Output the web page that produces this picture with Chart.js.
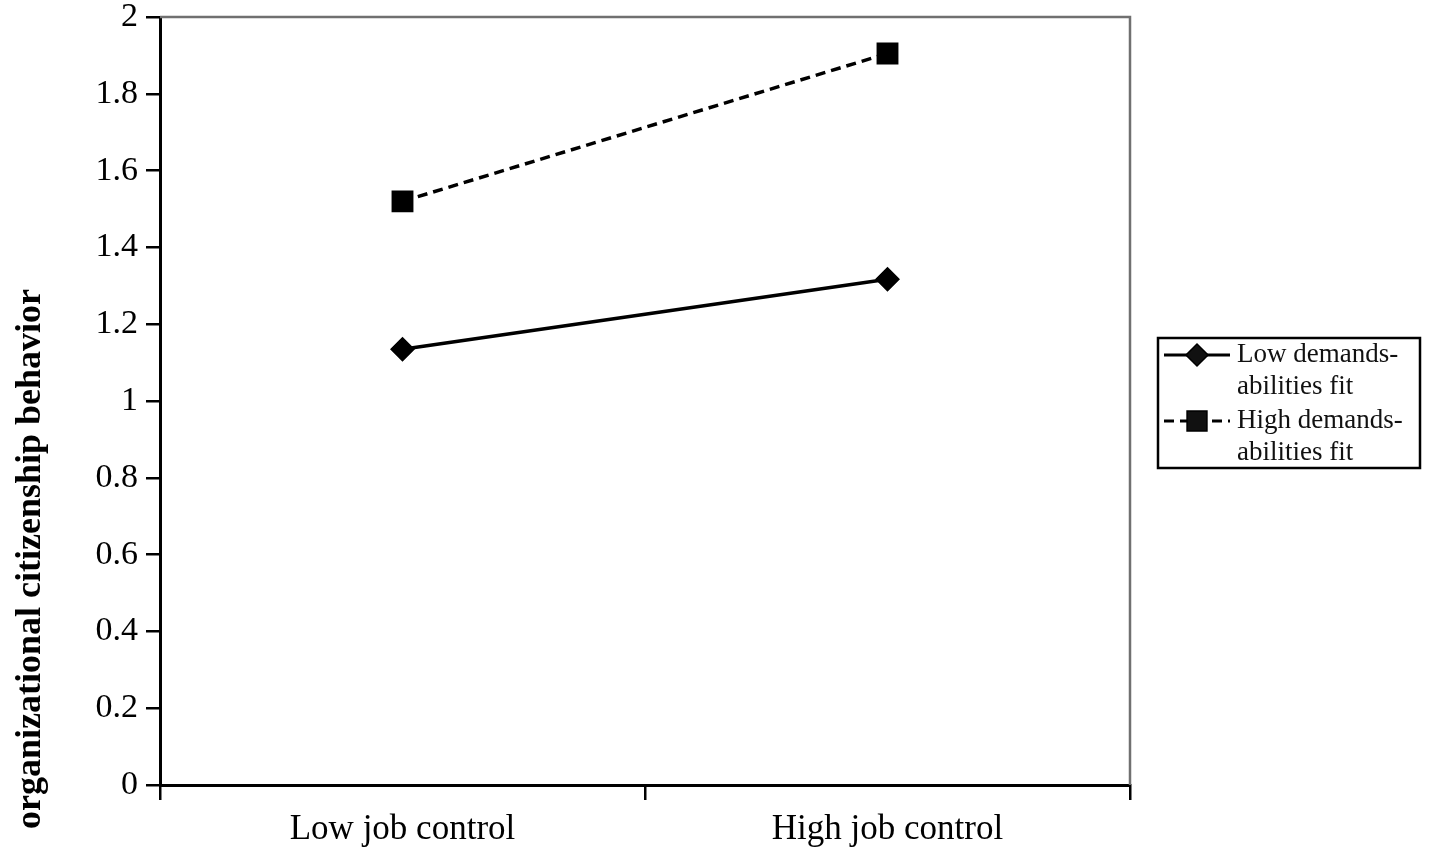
<!DOCTYPE html>
<html>
<head>
<meta charset="utf-8">
<script src="https://cdn.jsdelivr.net/npm/chart.js@4.4.0/dist/chart.umd.min.js"></script>
<style>
  html, body { margin: 0; padding: 0; background: #fff; }
  #wrap { width: 1429px; height: 866px; }
</style>
</head>
<body>
<div id="wrap"><canvas id="chart"></canvas></div>
<script>
let categories = ["Low job control", "High job control"]
let lowFit = [1.135, 1.317]
let highFit = [1.52, 1.905]
let seriesNames = [["Low demands-", "abilities fit"], ["High demands-", "abilities fit"]]
let yTitle = "organizational citizenship behavior"

const serif = "'Liberation Serif', 'Times New Roman', serif"

// gray top/right frame, y title and the boxed legend
const extras = {
  id: "extras",
  afterDraw(chart) {
    const ctx = chart.ctx
    const a = chart.chartArea
    ctx.save()
    ctx.strokeStyle = "#707070"
    ctx.lineWidth = 2.5
    ctx.beginPath()
    ctx.moveTo(a.left, a.top)
    ctx.lineTo(a.right, a.top)
    ctx.lineTo(a.right, a.bottom)
    ctx.stroke()

    ctx.fillStyle = "#000"
    ctx.font = "bold 36px " + serif
    ctx.translate(31, 559)
    ctx.rotate(-Math.PI / 2)
    ctx.textAlign = "center"
    ctx.textBaseline = "middle"
    ctx.fillText(yTitle, 0, 0)
    ctx.restore()

    // legend
    ctx.save()
    ctx.strokeStyle = "#000"
    ctx.lineWidth = 2.5
    ctx.strokeRect(1158, 338, 262, 130)
    ctx.font = "27px " + serif
    ctx.fillStyle = "#111"
    ctx.textBaseline = "middle"
    const rows = [355, 421]
    chart.data.datasets.forEach((ds, i) => {
      const y = rows[i]
      ctx.strokeStyle = "#000"
      ctx.lineWidth = 3
      ctx.setLineDash(ds.borderDash || [])
      ctx.beginPath()
      ctx.moveTo(1164, y)
      ctx.lineTo(1230, y)
      ctx.stroke()
      ctx.setLineDash([])
      Chart.helpers.drawPoint(ctx, {
        pointStyle: ds.pointStyle,
        radius: ds.pointRadius,
        borderWidth: 1
      }, 1197, y)
      ctx.fill()
      seriesNames[i].forEach((t, j) => ctx.fillText(t, 1237, y + j * 32))
    })
    ctx.restore()
  }
}

new Chart(document.getElementById("chart"), {
  type: "line",
  data: {
    labels: categories,
    datasets: [
      {
        label: seriesNames[0].join(" "),
        data: lowFit,
        borderColor: "#000",
        backgroundColor: "#000",
        borderWidth: 3.5,
        pointStyle: "rectRot",
        pointRadius: 10,
        pointHoverRadius: 10
      },
      {
        label: seriesNames[1].join(" "),
        data: highFit,
        borderColor: "#000",
        backgroundColor: "#000",
        borderWidth: 3.5,
        borderDash: [10, 6],
        pointStyle: "rect",
        pointRadius: 13,
        pointHoverRadius: 13
      }
    ]
  },
  options: {
    responsive: true,
    maintainAspectRatio: false,
    animation: false,
    layout: { padding: { top: 17, right: 299, left: 0, bottom: 0 } },
    plugins: {
      legend: { display: false },
      tooltip: { enabled: false }
    },
    scales: {
      x: {
        offset: true,
        afterFit(scale) {
          scale.height = 81
          scale.paddingLeft = 0
          scale.paddingRight = 0
        },
        grid: {
          offset: true,
          drawOnChartArea: false,
          drawTicks: true,
          tickLength: 15,
          color: "#000",
          lineWidth: 2.5
        },
        border: { color: "#000", width: 3 },
        ticks: {
          color: "#000",
          padding: 9,
          font: { family: serif, size: 35 }
        }
      },
      y: {
        min: 0,
        max: 2,
        afterFit(scale) {
          scale.width = 160
          scale.paddingTop = 0
          scale.paddingBottom = 0
        },
        grid: {
          drawOnChartArea: false,
          drawTicks: true,
          tickLength: 14,
          color: "#000",
          lineWidth: 2.5
        },
        border: { color: "#000", width: 3 },
        ticks: {
          stepSize: 0.2,
          color: "#000",
          padding: 8,
          font: { family: serif, size: 34 },
          callback: v => String(Math.round(v * 10) / 10)
        }
      }
    }
  },
  plugins: [extras]
})
</script>
</body>
</html>
